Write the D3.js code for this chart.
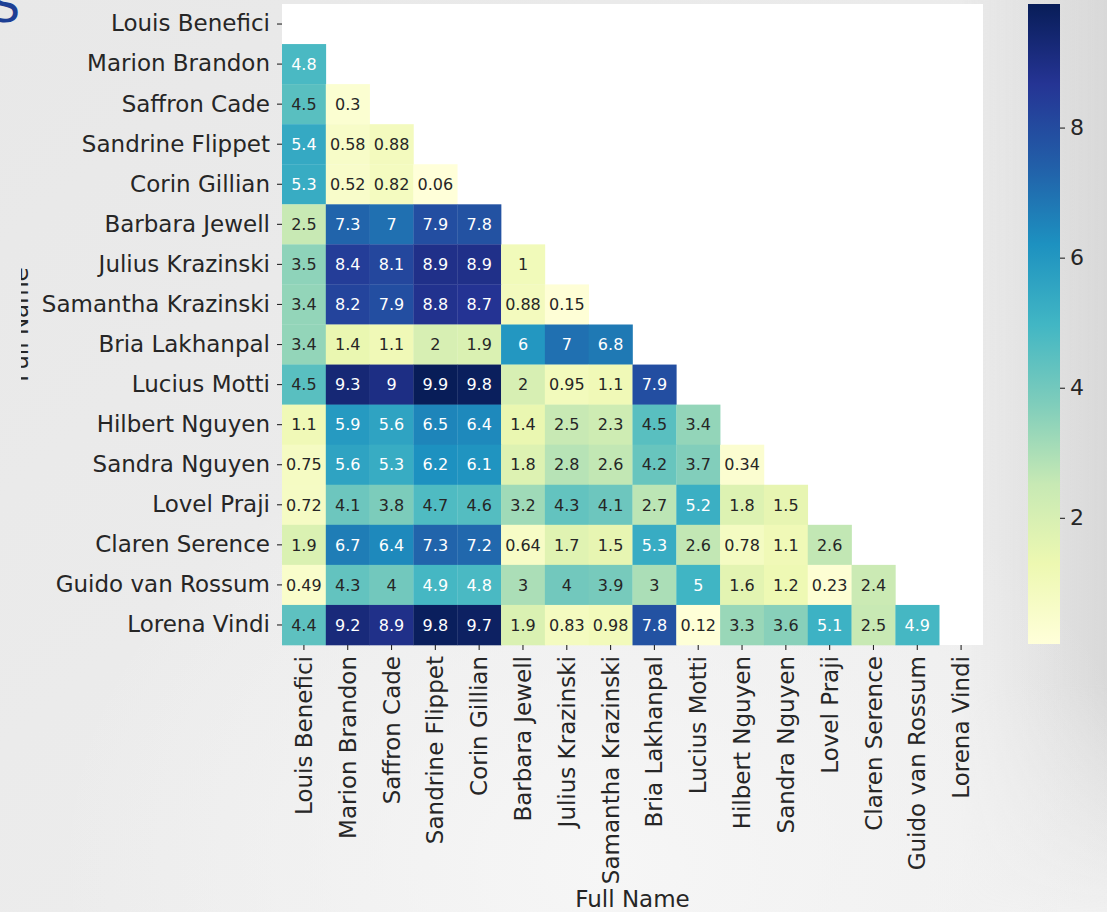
<!DOCTYPE html>
<html>
<head>
<meta charset="utf-8">
<script src="https://cdn.jsdelivr.net/npm/d3@7"></script>
<style>
  html, body { margin: 0; padding: 0; background: #ececec; }
  svg { display: block; font-family: "DejaVu Sans", sans-serif; }
</style>
</head>
<body>
<svg id="chart" width="1107" height="912"></svg>
<script>
// Guests, in the order used for both axes
const names = [
  "Louis Benefici", "Marion Brandon", "Saffron Cade", "Sandrine Flippet",
  "Corin Gillian", "Barbara Jewell", "Julius Krazinski", "Samantha Krazinski",
  "Bria Lakhanpal", "Lucius Motti", "Hilbert Nguyen", "Sandra Nguyen",
  "Lovel Praji", "Claren Serence", "Guido van Rossum", "Lorena Vindi"
];

// Lower triangle of the distance matrix: row i holds distances to columns 0..i-1
const distances = [
  [],
  [4.8],
  [4.5, 0.3],
  [5.4, 0.58, 0.88],
  [5.3, 0.52, 0.82, 0.06],
  [2.5, 7.3, 7, 7.9, 7.8],
  [3.5, 8.4, 8.1, 8.9, 8.9, 1],
  [3.4, 8.2, 7.9, 8.8, 8.7, 0.88, 0.15],
  [3.4, 1.4, 1.1, 2, 1.9, 6, 7, 6.8],
  [4.5, 9.3, 9, 9.9, 9.8, 2, 0.95, 1.1, 7.9],
  [1.1, 5.9, 5.6, 6.5, 6.4, 1.4, 2.5, 2.3, 4.5, 3.4],
  [0.75, 5.6, 5.3, 6.2, 6.1, 1.8, 2.8, 2.6, 4.2, 3.7, 0.34],
  [0.72, 4.1, 3.8, 4.7, 4.6, 3.2, 4.3, 4.1, 2.7, 5.2, 1.8, 1.5],
  [1.9, 6.7, 6.4, 7.3, 7.2, 0.64, 1.7, 1.5, 5.3, 2.6, 0.78, 1.1, 2.6],
  [0.49, 4.3, 4, 4.9, 4.8, 3, 4, 3.9, 3, 5, 1.6, 1.2, 0.23, 2.4],
  [4.4, 9.2, 8.9, 9.8, 9.7, 1.9, 0.83, 0.98, 7.8, 0.12, 3.3, 3.6, 5.1, 2.5, 4.9]
];

// Colour bar ticks
const colorbarTicks = [2, 4, 6, 8];

// YlGnBu, linear in RGB between the nine ColorBrewer anchors
const ylgnbu = ["#ffffd9", "#edf8b1", "#c7e9b4", "#7fcdbb", "#41b6c4",
                "#1d91c0", "#225ea8", "#253494", "#081d58"];

const cells = [];
distances.forEach((row, i) => row.forEach((v, j) => cells.push({ row: names[i], col: names[j], value: v })));

const vmin = d3.min(cells, d => d.value);
const vmax = d3.max(cells, d => d.value);

const color = d3.scaleLinear()
  .domain(ylgnbu.map((_, k) => vmin + (vmax - vmin) * k / (ylgnbu.length - 1)))
  .range(ylgnbu)
  .interpolate(d3.interpolateRgb);

function luminance(c) {
  const rgb = d3.rgb(c);
  const lin = u => { u /= 255; return u <= 0.03928 ? u / 12.92 : Math.pow((u + 0.055) / 1.055, 2.4); };
  return 0.2126 * lin(rgb.r) + 0.7152 * lin(rgb.g) + 0.0722 * lin(rgb.b);
}

const svg = d3.select("#chart");
const W = 1107, H = 912;

// ---- soft photographic backdrop ----
const defs = svg.append("defs");
const bg = defs.append("linearGradient").attr("id", "bg").attr("x1", 0).attr("y1", 0).attr("x2", 1).attr("y2", 1);
bg.append("stop").attr("offset", 0).attr("stop-color", "#e8e8e8");
bg.append("stop").attr("offset", 0.55).attr("stop-color", "#ececec");
bg.append("stop").attr("offset", 1).attr("stop-color", "#f0f0f0");
const rightShade = defs.append("linearGradient").attr("id", "rightShade").attr("x1", 0).attr("y1", 0).attr("x2", 1).attr("y2", 0);
rightShade.append("stop").attr("offset", 0).attr("stop-color", "#d6d6d6").attr("stop-opacity", 0);
rightShade.append("stop").attr("offset", 1).attr("stop-color", "#d6d6d6").attr("stop-opacity", 0.9);
const rightFade = defs.append("linearGradient").attr("id", "rightFade").attr("x1", 0).attr("y1", 0).attr("x2", 0).attr("y2", 1);
rightFade.append("stop").attr("offset", 0).attr("stop-color", "#fff").attr("stop-opacity", 1);
rightFade.append("stop").attr("offset", 0.75).attr("stop-color", "#fff").attr("stop-opacity", 1);
rightFade.append("stop").attr("offset", 1).attr("stop-color", "#fff").attr("stop-opacity", 0);
defs.append("mask").attr("id", "rightMask")
  .append("rect").attr("width", W).attr("height", H).attr("fill", "url(#rightFade)");
const bottomGlow = defs.append("radialGradient").attr("id", "bottomGlow").attr("cx", 0.55).attr("cy", 0.95).attr("r", 0.5);
bottomGlow.append("stop").attr("offset", 0).attr("stop-color", "#f6f6f6").attr("stop-opacity", 1);
bottomGlow.append("stop").attr("offset", 1).attr("stop-color", "#f6f6f6").attr("stop-opacity", 0);

svg.append("rect").attr("width", W).attr("height", H).attr("fill", "url(#bg)");
svg.append("rect").attr("x", 960).attr("y", 0).attr("width", W - 960).attr("height", H)
  .attr("fill", "url(#rightShade)").attr("mask", "url(#rightMask)");
svg.append("rect").attr("width", W).attr("height", H).attr("fill", "url(#bottomGlow)");

// clip for the partly hidden y-axis title
defs.append("clipPath").attr("id", "yTitleClip")
  .append("rect").attr("x", 21).attr("y", 0).attr("width", 60).attr("height", H);

// ---- heatmap ----
const plot = { left: 282, top: 4, right: 983, bottom: 645 };

const x = d3.scaleBand().domain(names).range([plot.left, plot.right]);
const y = d3.scaleBand().domain(names).range([plot.top, plot.bottom]);

svg.append("rect")
  .attr("x", plot.left).attr("y", plot.top)
  .attr("width", plot.right - plot.left).attr("height", plot.bottom - plot.top)
  .attr("fill", "#ffffff");

svg.append("g").selectAll("rect").data(cells).join("rect")
  .attr("x", d => x(d.col))
  .attr("y", d => y(d.row))
  .attr("width", x.bandwidth() + 0.3)
  .attr("height", y.bandwidth() + 0.3)
  .attr("fill", d => color(d.value));

svg.append("g").selectAll("text").data(cells).join("text")
  .attr("x", d => x(d.col) + x.bandwidth() / 2)
  .attr("y", d => y(d.row) + y.bandwidth() / 2)
  .attr("dy", "0.36em")
  .attr("text-anchor", "middle")
  .attr("font-size", 16)
  .attr("fill", d => luminance(color(d.value)) > 0.408 ? "#262626" : "#ffffff")
  .text(d => d3.format("~g")(+d.value.toPrecision(2)));

// ---- axes ----
const tickColor = "#262626";
const labelSize = 23;

const yAxis = svg.append("g")
  .attr("transform", `translate(${plot.left},0)`)
  .call(d3.axisLeft(y).tickSize(5).tickPadding(7));
yAxis.select(".domain").remove();
yAxis.selectAll("line").attr("stroke", tickColor).attr("stroke-width", 1.1);
yAxis.selectAll("text").attr("font-size", labelSize).attr("fill", tickColor).attr("font-family", "DejaVu Sans");

const xAxis = svg.append("g")
  .attr("transform", `translate(0,${plot.bottom})`)
  .call(d3.axisBottom(x).tickSize(5));
xAxis.select(".domain").remove();
xAxis.selectAll("line").attr("stroke", tickColor).attr("stroke-width", 1.1);
xAxis.selectAll("text")
  .attr("font-size", labelSize).attr("fill", tickColor).attr("font-family", "DejaVu Sans")
  .attr("transform", "rotate(-90)")
  .attr("x", -11).attr("y", 0).attr("dy", "0.35em")
  .style("text-anchor", "end");

svg.append("text")
  .attr("x", (plot.left + plot.right) / 2)
  .attr("y", 907)
  .attr("text-anchor", "middle")
  .attr("font-size", labelSize)
  .attr("fill", tickColor)
  .text("Full Name");

svg.append("g").attr("clip-path", "url(#yTitleClip)")
  .append("text")
  .attr("transform", `translate(27.5,${(plot.top + plot.bottom) / 2}) rotate(-90)`)
  .attr("text-anchor", "middle")
  .attr("font-size", labelSize)
  .attr("fill", tickColor)
  .text("Full Name");

// fragment of the page heading in the corner
svg.append("text")
  .attr("x", -9).attr("y", 22)
  .attr("font-size", 46)
  .attr("fill", "#1d3f94")
  .text("S");

// ---- colour bar ----
const cb = { x: 1028, width: 32, top: 4, bottom: 644 };
const cbScale = d3.scaleLinear().domain([vmin, vmax]).range([cb.bottom, cb.top]);

const cbGrad = defs.append("linearGradient").attr("id", "cbGrad")
  .attr("x1", 0).attr("y1", 1).attr("x2", 0).attr("y2", 0);
ylgnbu.forEach((c, k) => cbGrad.append("stop").attr("offset", k / (ylgnbu.length - 1)).attr("stop-color", c));

svg.append("rect")
  .attr("x", cb.x).attr("y", cb.top)
  .attr("width", cb.width).attr("height", cb.bottom - cb.top)
  .attr("fill", "url(#cbGrad)");

const cbAxis = svg.append("g")
  .attr("transform", `translate(${cb.x + cb.width},0)`)
  .call(d3.axisRight(cbScale).tickValues(colorbarTicks).tickSize(5).tickPadding(5));
cbAxis.select(".domain").remove();
cbAxis.selectAll("line").attr("stroke", tickColor).attr("stroke-width", 1.1);
cbAxis.selectAll("text").attr("font-size", 22).attr("fill", tickColor).attr("font-family", "DejaVu Sans");
</script>
</body>
</html>
